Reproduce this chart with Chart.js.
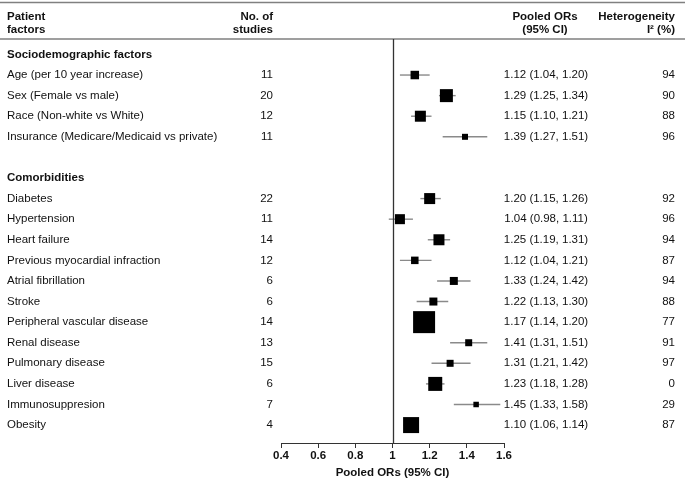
<!DOCTYPE html>
<html>
<head>
<meta charset="utf-8">
<script src="https://cdn.jsdelivr.net/npm/chart.js@4"></script>
<style>
  html, body { margin: 0; padding: 0; background: #fff; }
  #wrap { width: 685px; height: 482px; position: relative; }
</style>
</head>
<body>
<div id="wrap"><canvas id="forest"></canvas></div>
<script>
// row layout: 0 = section header, 5 = blank, 6 = section header
const sections = [
    { row: 0, title: 'Sociodemographic factors' },
    { row: 6, title: 'Comorbidities' }
];
const factorRows = [1, 2, 3, 4, 7, 8, 9, 10, 11, 12, 13, 14, 15, 16, 17, 18];
const factors = [
    'Age (per 10 year increase)',
    'Sex (Female vs male)',
    'Race (Non-white vs White)',
    'Insurance (Medicare/Medicaid vs private)',
    'Diabetes',
    'Hypertension',
    'Heart failure',
    'Previous myocardial infraction',
    'Atrial fibrillation',
    'Stroke',
    'Peripheral vascular disease',
    'Renal disease',
    'Pulmonary disease',
    'Liver disease',
    'Immunosuppresion',
    'Obesity'
];
const nStudies = [11, 20, 12, 11, 22, 11, 14, 12, 6, 6, 14, 13, 15, 6, 7, 4];
const pooledOR = [1.12, 1.29, 1.15, 1.39, 1.20, 1.04, 1.25, 1.12, 1.33, 1.22, 1.17, 1.41, 1.31, 1.23, 1.45, 1.10];
const ciLow = [1.04, 1.25, 1.10, 1.27, 1.15, 0.98, 1.19, 1.04, 1.24, 1.13, 1.14, 1.31, 1.21, 1.18, 1.33, 1.06];
const ciHigh = [1.20, 1.34, 1.21, 1.51, 1.26, 1.11, 1.31, 1.21, 1.42, 1.30, 1.20, 1.51, 1.42, 1.28, 1.58, 1.14];
const heterogeneity = [94, 90, 88, 96, 92, 96, 94, 87, 94, 88, 77, 91, 97, 0, 29, 87];
// square side in px (study weight)
const markerSizes = [8.5, 13, 11, 6, 11, 10, 11, 7.5, 8, 8, 22, 7, 7, 14, 5.5, 16];
const xTicks = [0.4, 0.6, 0.8, 1, 1.2, 1.4, 1.6];

const FONT = '"Liberation Sans", Arial, sans-serif';
const TEXT = '#111';

function fmt(v) { return v.toFixed(2); }

const ciDatasets = factors.map((f, i) => ({
    type: 'line',
    data: [{ x: ciLow[i], y: factorRows[i] }, { x: ciHigh[i], y: factorRows[i] }],
    borderColor: '#8a8a8a',
    borderWidth: 1.4,
    pointRadius: 0,
    order: 2
}));

const pointDataset = {
    type: 'scatter',
    data: factors.map((f, i) => ({ x: pooledOR[i], y: factorRows[i] })),
    pointStyle: 'rect',
    backgroundColor: '#000',
    borderWidth: 0,
    pointBorderWidth: 0,
    pointRadius: markerSizes.map(s => s / Math.SQRT2),
    pointHoverRadius: markerSizes.map(s => s / Math.SQRT2),
    order: 1
};

// table text, rules and the reference line at OR = 1
const tablePlugin = {
    id: 'tablePlugin',
    afterDraw(chart) {
        const ctx = chart.ctx;
        const x = chart.scales.x;
        const y = chart.scales.y;
        const area = chart.chartArea;
        ctx.save();

        // rules
        ctx.strokeStyle = '#808080';
        ctx.lineWidth = 1.5;
        ctx.beginPath();
        ctx.moveTo(0, 2.5); ctx.lineTo(685, 2.5);
        ctx.moveTo(0, area.top); ctx.lineTo(685, area.top);
        ctx.stroke();

        // OR = 1 line
        ctx.strokeStyle = '#333';
        ctx.lineWidth = 1.3;
        ctx.beginPath();
        const x1 = Math.round(x.getPixelForValue(1)) + 0.5;
        ctx.moveTo(x1, area.top);
        ctx.lineTo(x1, area.bottom);
        ctx.stroke();

        // headers
        ctx.fillStyle = TEXT;
        ctx.textBaseline = 'middle';
        ctx.font = 'bold 11.5px ' + FONT;
        ctx.textAlign = 'left';
        ctx.fillText('Patient', 7, 17);
        ctx.fillText('factors', 7, 30);
        ctx.textAlign = 'right';
        ctx.fillText('No. of', 273, 17);
        ctx.fillText('studies', 273, 30);
        ctx.textAlign = 'center';
        ctx.fillText('Pooled ORs', 545, 17);
        ctx.fillText('(95% CI)', 545, 30);
        ctx.textAlign = 'right';
        ctx.fillText('Heterogeneity', 675, 17);
        ctx.fillText('I\u00B2 (%)', 675, 30);

        // section titles
        ctx.textAlign = 'left';
        sections.forEach(s => {
            ctx.fillText(s.title, 7, y.getPixelForValue(s.row));
        });

        // rows
        ctx.font = '11.5px ' + FONT;
        factors.forEach((f, i) => {
            const py = y.getPixelForValue(factorRows[i]);
            ctx.textAlign = 'left';
            ctx.fillText(f, 7, py);
            ctx.textAlign = 'right';
            ctx.fillText(String(nStudies[i]), 273, py);
            ctx.textAlign = 'center';
            ctx.fillText(fmt(pooledOR[i]) + ' (' + fmt(ciLow[i]) + ', ' + fmt(ciHigh[i]) + ')', 546, py);
            ctx.textAlign = 'right';
            ctx.fillText(String(heterogeneity[i]), 675, py);
        });
        ctx.restore();
    }
};

new Chart(document.getElementById('forest'), {
    data: { datasets: ciDatasets.concat([pointDataset]) },
    options: {
        responsive: true,
        maintainAspectRatio: false,
        animation: false,
        events: [],
        layout: { padding: { top: 39, left: 281, right: 181, bottom: 0 } },
        plugins: { legend: { display: false }, tooltip: { enabled: false } },
        scales: {
            x: {
                type: 'linear',
                min: 0.4,
                max: 1.6,
                afterBuildTicks: scale => { scale.ticks = xTicks.map(v => ({ value: v })); },
                afterFit: scale => { scale.height = 39; },
                ticks: {
                    color: '#111',
                    padding: 1,
                    font: { family: FONT, size: 11.5, weight: 'bold' },
                    callback: v => String(+v.toFixed(1))
                },
                grid: { drawOnChartArea: false, drawTicks: true, tickLength: 5, color: '#333' },
                border: { display: true, color: '#333', width: 1 },
                title: {
                    display: true,
                    text: 'Pooled ORs (95% CI)',
                    color: '#111',
                    font: { family: FONT, size: 11.5, weight: 'bold' },
                    padding: { top: 0, bottom: 2 }
                }
            },
            y: {
                type: 'linear',
                display: false,
                reverse: true,
                min: -0.75,
                max: 18.87
            }
        }
    },
    plugins: [tablePlugin]
});
</script>
</body>
</html>
